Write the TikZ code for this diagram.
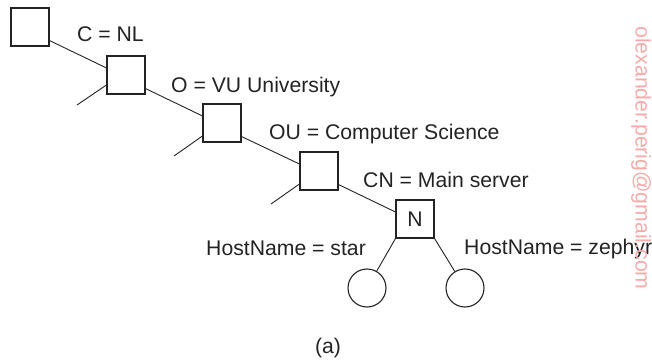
\documentclass[tikz,border=0pt]{standalone}
\usepackage{fontspec}
\setmainfont{Liberation Sans}
\definecolor{ink}{RGB}{35,35,35}
\definecolor{wm}{RGB}{248,170,170}
\begin{document}
\begin{tikzpicture}[x=1pt,y=-1pt,
  every node/.style={font=\fontsize{21.2}{25}\selectfont, text=ink},
  entry/.style={draw=ink, line width=1.1pt, rectangle, minimum size=38pt, inner sep=0pt},
  leaf/.style={draw=ink, line width=1.1pt, circle, minimum size=38pt, inner sep=0pt},
  lbl/.style={anchor=base west, inner sep=0pt},
  edge/.style={draw=ink, line width=0.9pt}]
\useasboundingbox (0,0) rectangle (652,363);
% entries
\node[entry] (b1) at (30,27) {};
\node[entry] (b2) at (126,75) {};
\node[entry] (b3) at (222,123) {};
\node[entry] (b4) at (319,171) {};
\node[entry] (bn) at (415,219) {N};
\node[leaf] (c1) at (367,288) {};
\node[leaf] (c2) at (465,288) {};
% stub ends
\coordinate (s2) at (77,105);
\coordinate (s3) at (174,156);
\coordinate (s4) at (271,204);
% connectors
\draw[edge] ([yshift=6pt]b1.south east) -- ([yshift=7pt]b2.west);
\draw[edge] ([yshift=6pt]b2.south east) -- ([yshift=7pt]b3.west);
\draw[edge] ([yshift=6pt]b3.south east) -- ([yshift=7pt]b4.west);
\draw[edge] ([yshift=6pt]b4.south east) -- ([yshift=7pt]bn.west);
\draw[edge] ([yshift=-10pt]b2.west) -- (s2);
\draw[edge] ([yshift=-13pt]b3.west) -- (s3);
\draw[edge] ([yshift=-13pt]b4.west) -- (s4);
\draw[edge] (bn.south west) -- (c1);
\draw[edge] (bn.south east) -- (c2);
% labels
\node[lbl] (l1) at (77,42) {C = NL};
\node[lbl] (l2) at (171,93) {O = VU University};
\node[lbl] (l3) at (269,140) {OU = Computer Science};
\node[lbl] (l4) at (363,188) {CN = Main server};
\node[lbl] (l5) at (206,255) {HostName = star};
\node[lbl] (l6) at (464,254) {HostName = zephyr};
\node[anchor=base, inner sep=0pt] (cap) at (328,353) {(a)};
% watermark
\node[rotate=-90, text=wm, inner sep=0pt] (wmark) at (641,158) {olexander.perig@gmail.com};
\end{tikzpicture}
\end{document}
